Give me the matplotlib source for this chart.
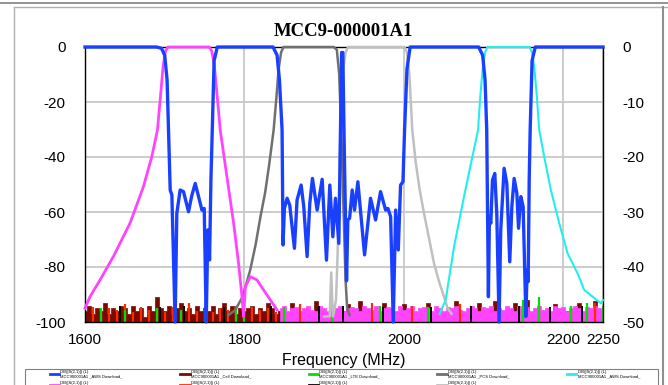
import numpy as np
import matplotlib
matplotlib.use("Agg")
import matplotlib.pyplot as plt
from matplotlib.lines import Line2D
from matplotlib.patches import Rectangle

# ---------------- data ----------------
title = "MCC9-000001A1"
x_label = "Frequency (MHz)"
x_ticks = [1600, 1800, 2000, 2200, 2250]
left_ticks = [0, -20, -40, -60, -80, -100]
right_ticks = [0, -10, -20, -30, -40, -50]

# blue: through path (band-stop)
blue_f = [1600, 1690, 1696, 1700, 1703, 1704.8, 1706.9, 1709, 1713.1, 1715.2, 1719.4, 1723.6,
          1729.9, 1734, 1738.3, 1742.5, 1746.7, 1749.6, 1752.1, 1754.2, 1756.3, 1758, 1759.7,
          1762, 1766, 1836, 1841, 1844, 1847.3, 1848.5, 1850.2, 1853.6, 1856.9, 1862.8, 1866.1,
          1871.2, 1874.5, 1878.7, 1882.1, 1885.4, 1891.3, 1897.6, 1903, 1907.2, 1911, 1914.3,
          1918.5, 1920.6, 1922, 1923.5, 1925.5, 1928.2, 1929.8, 1932, 1935.3, 1938.2, 1942.4,
          1950.8, 1958.3, 1964.6, 1970.9, 1977.2, 1980.1, 1983.5, 1986.8, 1989.8, 1993.1, 1996,
          1999, 2001, 2004, 2008, 2094, 2099, 2102, 2104.1, 2106.2, 2107.5, 2109.2, 2111.3,
          2114.2, 2116.7, 2119.6, 2121.7, 2125.9, 2129.3, 2133, 2135.6, 2138.5, 2141.9, 2144,
          2146.9, 2149.8, 2153.2, 2154.8, 2156.1, 2157.4, 2158.6, 2161, 2165, 2250]
blue_db = [0, 0, -0.5, -3, -12, -30.2, -52, -53.8, -100, -60.5, -52, -52.6,
           -59.9, -54, -49.6, -54.4, -59.3, -58.7, -100, -66.5, -77.4, -48.4, -30.2,
           -5, 0, 0, -3, -12, -30.2, -72, -58.7, -55, -57.5, -73.2, -55.6,
           -50.2, -58, -76.2, -56.8, -47.8, -59.3, -48.1, -77.5, -50.2, -69, -55,
           -71.4, -30.2, -2, -2, -40, -85, -62.9, -62.3, -52, -59.3, -49,
           -75.6, -55, -62.9, -52.6, -59.3, -58.7, -61.7, -100, -59.3, -73.8, -50.2,
           -49, -30.2, -8, 0, 0, -3, -12, -30.2, -90.8, -61.7, -64.1, -48.4,
           -46, -60.5, -100, -66.5, -44.1, -49.6, -78.1, -58.1, -47.8, -53.2, -65.9,
           -54.4, -58.1, -98, -81.1, -85.3, -48.4, -30.2, -5, 0, 0]

# magenta: AWS uplink band-pass
mag_f = [1600, 1606.3, 1618.9, 1635.6, 1656.6, 1673.3, 1683.8, 1690.9, 1695, 1698, 1701, 1704,
         1756, 1759, 1762, 1765, 1769.7, 1778.1, 1786.5, 1792.7, 1797, 1799, 1801.2, 1807.4,
         1815.8, 1824.2, 1832.6, 1841]
mag_db = [-95, -90.8, -84.7, -76.2, -64, -50.8, -39.9, -30.2, -17, -7, -1.5, 0,
          0, -1.5, -6, -15, -30.2, -47.2, -64.1, -78.7, -90.8, -98, -87.2, -83.5,
          -84.7, -88.4, -92, -95.6]
mag_floor = [-95, -94, -96, -95, -94.5, -96, -95, -94, -95.5, -96,
             -94, -95, -96, -94.5, -95, -94, -96, -95, -94.5, -95,
             -96, -94, -95, -95.5, -94, -96, -95, -94.5, -95, -96,
             -94, -95.5, -95, -94, -96, -95, -94.5, -95, -96, -94,
             -95, -96, -94.5, -95, -94, -95.5, -96, -95, -94, -95,
             -96, -94.5, -95, -94, -96, -95, -95.5, -94, -95, -96,
             -94, -95, -94.5, -96, -95, -94, -95.5, -95, -96, -94,
             -95, -94.5, -96, -95, -94, -95, -96, -94.5, -95, -94,
             -95, -96]
mag_floor_start, mag_floor_end = 1845, 2250

# dark gray: PCS uplink band-pass
gray_f = [1780, 1788.6, 1797.8, 1807.4, 1814, 1820, 1826, 1831, 1836.7, 1840, 1843, 1846, 1849,
          1912, 1916, 1919, 1922, 1925, 1927, 1929, 1932]
gray_db = [-97.5, -95.6, -90.8, -81, -72, -62, -53, -43, -30.2, -19, -8, -2, 0,
           0, -1, -10, -35, -65, -85, -95, -97.5]

# light gray: PCS downlink band-pass
lgray_f = [1900, 1907, 1909, 1911, 1912, 1915, 1917, 1919, 1921, 1924, 1927, 1930,
           2001, 2004, 2007, 2010.7, 2015, 2020, 2025.4, 2032, 2038, 2044, 2050.5, 2055, 2060]
lgray_db = [-98, -98, -82, -98, -97, -92, -75, -50, -25, -8, -2, 0,
            0, -2, -10, -30.2, -42, -52, -60.5, -70, -78.7, -85, -90.8, -95, -97]

# cyan: AWS downlink band-pass
cyan_f = [2045, 2052.6, 2063.1, 2075.6, 2086.1, 2093.2, 2096, 2099, 2102, 2105, 2158, 2161,
          2164, 2167, 2170, 2176.2, 2184.6, 2195.1, 2205.5, 2218.1, 2226.5, 2237, 2247.5, 2250]
cyan_db = [-97, -92, -72.6, -54.4, -39.9, -30.2, -18, -8, -2, 0, 0, -2,
           -8, -18, -30.2, -39.9, -52, -64.1, -75, -82.3, -88.4, -90.8, -93.2, -92]

# noise floors (1600..2250, 5 MHz steps for maroon, 10 MHz for the others)
maroon_floor = [-96, -94, -97, -95, -96, -93, -97, -95, -96, -94,
                -95, -97, -94, -96, -95, -98, -94, -96, -91, -95,
                -96, -94, -97, -95, -93, -96, -95, -97, -94, -96,
                -95, -96, -94, -97, -95, -93, -96, -94, -97, -95,
                -96, -95, -94, -97, -95, -96, -93, -95, -97, -96,
                -98, -99, -93, -98, -99, -97, -99, -98, -92.5, -99,
                -98, -99, -97, -98, -99, -96, -93.5, -99, -98, -92.5,
                -99, -98, -97, -99, -98, -93, -99, -98, -99, -97,
                -93.5, -98, -99, -98, -97, -99, -93, -98, -99, -98,
                -97, -99, -98, -92.5, -99, -98, -97, -99, -98, -93,
                -98, -99, -97, -92.5, -98, -99, -98, -96, -93, -97,
                -98, -92, -99, -98, -97, -99, -96, -98, -93.5, -97,
                -98, -96, -99, -98, -93, -99, -97, -98, -92.5, -96,
                -98]
red_floor = [-95.5, -94.5, -96.5, -95, -95.5, -93.5, -96.5, -94.5, -95.5, -95,
             -96.5, -94.5, -95.5, -93, -96, -94.5, -96.5, -95, -95.5, -94,
             -96.5, -94.5, -95.5, -95, -96.5,
             -101, -101, -93.5, -101, -101, -101, -94, -101, -101, -101,
             -101, -93, -101, -101, -101, -101, -94, -101, -101, -101,
             -101, -101, -93.5, -101, -101, -101, -101, -94, -101, -101,
             -101, -101, -93.5, -101, -101, -101, -94, -101, -101, -93,
             -101]
green_floor = [-101, -101, -95, -101, -101, -95.5, -101, -101, -101, -95,
               -101, -101, -95.5, -101, -101, -95, -101, -101, -101, -95,
               -91, -101, -101, -101, -101, -94.5, -101, -101, -101, -101,
               -101, -94, -101, -101, -101, -101, -101, -94, -101, -101,
               -101, -101, -101, -94.5, -101, -101, -101, -101, -101, -101,
               -101, -101, -101, -101, -101, -92, -101, -91, -101, -101,
               -101, -94, -101, -93, -101, -94]
black_floor = [-101, -101, -101, -101, -94, -101, -101, -101, -101, -94.5,
               -101, -101, -94, -101, -101, -101, -101, -94.5, -101, -101,
               -101, -101, -101, -94, -101, -101, -101, -101, -101, -94,
               -101, -101, -94, -101, -101, -101, -101, -94.5, -101, -101,
               -101, -101, -101, -94.5, -101, -101, -101, -101, -94, -101,
               -101, -101, -101, -101, -94, -101, -101, -101, -94.5, -101,
               -101, -101, -94, -101, -101, -101]
floor_start, floor_end = 1600, 2250

legend_top = "DB(|S(2,1)|) (L)"
legend_files = ["MCC900001A1 _AWS Download_", "MCC900001A1 _Cell Download_",
                "MCC900001A1 _LTE Download_", "MCC900001A1 _PCS Download_",
                "MCC900001A1 _AWS Download_", "MCC900001A1 _AWS Upload_",
                "MCC900001A1 _Cell Upload_", "MCC900001A1 _LTE Upload_",
                "MCC900001A1 _PCS Upload_"]

# ---------------- figure ----------------
W, H = 668, 385
fig = plt.figure(figsize=(W / 100, H / 100), dpi=100)
fig.patch.set_facecolor("white")
sans = ["Liberation Sans", "DejaVu Sans"]

ax = fig.add_axes([85 / W, 1 - 322 / H, (603 - 85) / W, (322 - 47) / H])
ax.set_xlim(1600, 2250)
ax.set_ylim(-100, 0)
ax.set_xticks(x_ticks)
ax.set_xticklabels([str(t) for t in x_ticks], family=sans, fontsize=11)
ax.set_yticks(left_ticks)
ax.set_yticklabels([str(t) for t in left_ticks], family=sans, fontsize=11)
ax.tick_params(axis="both", length=0)
ax.tick_params(axis="y", pad=14)
ax.tick_params(axis="x", pad=8)
ax.grid(True, color="#c8c8c8", lw=1.3)
ax.set_axisbelow(True)
for s in ax.spines.values():
    s.set_color("black")
    s.set_linewidth(1.0)

# noise floors
mf_x = np.linspace(floor_start, floor_end, len(maroon_floor))
ax.fill_between(mf_x, maroon_floor, -100, step="mid", facecolor="#7a0a00",
                edgecolor="#7a0a00", lw=0.5, zorder=2)
pf_x = np.linspace(mag_floor_start, mag_floor_end, len(mag_floor))
ax.fill_between(pf_x, mag_floor, -100, step="mid", facecolor="#ff44ff",
                edgecolor="#ff44ff", lw=0.5, zorder=2.2)
rf_x = np.linspace(floor_start, floor_end, len(red_floor))
ax.vlines(rf_x, -100, np.maximum(red_floor, -100), color="#ff2a00", lw=1.6, zorder=2.4)
gf_x = np.linspace(floor_start, floor_end, len(green_floor))
ax.vlines(gf_x, -100, np.maximum(green_floor, -100), color="#00dd00", lw=1.6, zorder=2.5)
bf_x = np.linspace(floor_start, floor_end, len(black_floor))
ax.vlines(bf_x + 4, -100, np.maximum(black_floor, -100), color="black", lw=1.4, zorder=2.5)

# band-pass curves
ax.plot(gray_f, gray_db, color="#707070", lw=1.8, zorder=3, clip_on=False)
ax.plot(lgray_f, lgray_db, color="#c0c0c0", lw=1.8, zorder=3, clip_on=False)
ax.plot(cyan_f, cyan_db, color="#22eeee", lw=1.5, zorder=3, clip_on=False)
ax.plot(mag_f, mag_db, color="#ff44ff", lw=2.0, zorder=3.2, clip_on=False)
ax.plot(blue_f, blue_db, color="#1a40ff", lw=2.4, zorder=4, clip_on=False,
        solid_joinstyle="round")

ax2 = ax.twinx()
ax2.set_ylim(-50, 0)
ax2.set_yticks(right_ticks)
ax2.set_yticklabels([str(t) for t in right_ticks], family=sans, fontsize=11)
ax2.tick_params(axis="y", length=0, pad=14)
for s in ax2.spines.values():
    s.set_visible(False)

fig.text(343 / W, 1 - 32 / H, title, ha="center", va="center",
         family=["Liberation Serif", "DejaVu Serif"], fontweight="bold", fontsize=13.5)
fig.text(344 / W, 1 - 360 / H, x_label, ha="center", va="center", family=sans, fontsize=11.5)

# outer frame
def fline(x0, y0, x1, y1, c, lw):
    fig.add_artist(Line2D([x0 / W, x1 / W], [1 - y0 / H, 1 - y1 / H], color=c, lw=lw,
                          transform=fig.transFigure))

fline(0, 3, W, 3, "#808080", 1.2)
fline(14, 7, W, 7, "#b0b0b0", 1.0)
fline(14, 7, 14, H, "#b0b0b0", 1.0)
fline(663, 7, 663, H, "#909090", 1.5)

# legend frame
fig.add_artist(Rectangle((25 / W, -0.05), (658 - 25) / W, 1 - 369 / H + 0.05,
                         transform=fig.transFigure, facecolor="white",
                         edgecolor="#808080", lw=0.8))

# legend
colors = ["#1a40ff", "#7a0a00", "#00dd00", "#707070", "#22eeee",
          "#ff44ff", "#ff2a00", "black", "#c0c0c0"]
order = [0, 5, 1, 6, 2, 7, 3, 8, 4]
handles = [Line2D([], [], color=colors[i], lw=2) for i in order]
labels = [legend_top + "\n" + legend_files[i] for i in order]
leg = fig.legend(handles, labels, loc="upper left", ncol=5, mode="expand",
                 bbox_to_anchor=(50 / W, 0, (640 - 50) / W, 1 - 370 / H),
                 frameon=False, handlelength=2.2, handletextpad=0.3,
                 borderaxespad=0, borderpad=0, labelspacing=0.5,
                 prop={"family": sans, "size": 3})
leg.set_zorder(5)

fig.savefig("out.png", dpi=100, facecolor="white")
